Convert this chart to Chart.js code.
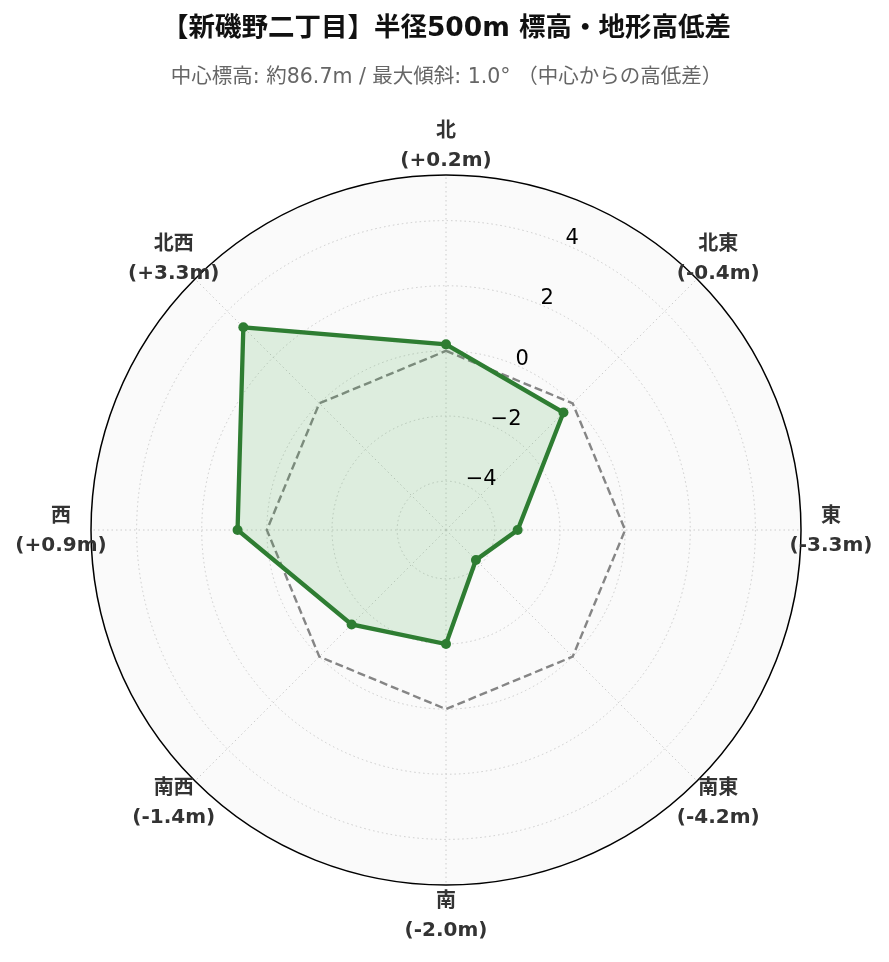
<!DOCTYPE html>
<html>
<head>
<meta charset="utf-8">
<script src="https://cdn.jsdelivr.net/npm/chart.js@4.4.1/dist/chart.umd.min.js"></script>
<style>
    html, body { margin: 0; padding: 0; background: #ffffff; }
    #wrap { width: 889px; height: 962px; }
</style>
</head>
<body>
<div id="wrap"><canvas id="RadarChart" width="889" height="962"></canvas></div>
<script>
// directions, clockwise from north
const directions = ['北', '北東', '東', '南東', '南', '南西', '西', '北西'];
// elevation difference from center (m)
const diffs = [0.2, -0.4, -3.3, -4.2, -2.0, -1.4, 0.9, 3.3];
// reference line = center elevation
const baseline = [0, 0, 0, 0, 0, 0, 0, 0];
const tickValues = [-4, -2, 0, 2, 4];

const titleText = '【新磯野二丁目】半径500m 標高・地形高低差';
const subtitleText = '中心標高: 約86.7m / 最大傾斜: 1.0° （中心からの高低差）';

const fontFamily = '"DejaVu Sans", "Noto Sans CJK JP", sans-serif';

function signed(v) {
    return (v >= 0 ? '+' : '-') + Math.abs(v).toFixed(1) + 'm';
}

// titles, outer ring, radial tick labels and direction labels
const decorations = {
    id: 'decorations',
    afterDraw(chart) {
        const ctx = chart.ctx;
        const r = chart.scales.r;
        ctx.save();

        // outer circle
        ctx.beginPath();
        ctx.arc(r.xCenter, r.yCenter, r.drawingArea, 0, Math.PI * 2);
        ctx.strokeStyle = '#000000';
        ctx.lineWidth = 1.5;
        ctx.stroke();

        // title + subtitle
        ctx.textAlign = 'center';
        ctx.textBaseline = 'middle';
        ctx.fillStyle = '#111111';
        ctx.font = 'bold 26.5px ' + fontFamily;
        ctx.fillText(titleText, chart.width / 2 + 2, 29);
        ctx.fillStyle = '#666666';
        ctx.font = '20.5px ' + fontFamily;
        ctx.fillText(subtitleText, chart.width / 2 + 2, 78);

        // radial tick labels at 22.5 degrees
        ctx.fillStyle = '#000000';
        ctx.font = '21px ' + fontFamily;
        ctx.textAlign = 'left';
        ctx.textBaseline = 'alphabetic';
        tickValues.forEach(v => {
            const p = r.getPointPosition(0.5, r.getDistanceFromCenterForValue(v));
            const label = v < 0 ? '\u2212' + Math.abs(v) : String(v);
            ctx.fillText(label, p.x + 1, p.y);
        });

        // direction labels
        ctx.fillStyle = '#333333';
        ctx.font = 'bold 20px ' + fontFamily;
        ctx.textAlign = 'center';
        ctx.textBaseline = 'middle';
        directions.forEach((d, i) => {
            const p = r.getPointPosition(i, r.drawingArea + 30);
            ctx.fillText(d, p.x, p.y - 13);
            ctx.fillText('(' + signed(diffs[i]) + ')', p.x, p.y + 16);
        });

        ctx.restore();
    }
};

const ctx = document.getElementById('RadarChart').getContext('2d');
const RadarChart = new Chart(ctx, {
    type: 'radar',
    data: {
        labels: directions,
        datasets: [{
            data: diffs,
            borderColor: '#2e7d32',
            backgroundColor: 'rgba(76, 175, 80, 0.16)',
            borderWidth: 4.3,
            fill: 'start',
            pointRadius: 5,
            pointBackgroundColor: '#2e7d32',
            pointBorderWidth: 0,
            tension: 0
        }, {
            data: baseline,
            borderColor: '#858585',
            borderWidth: 2.4,
            borderDash: [8, 4],
            fill: false,
            pointRadius: 0,
            tension: 0
        }]
    },
    options: {
        responsive: false,
        animation: false,
        layout: {
            padding: { left: 91, right: 88, top: 175, bottom: 77 }
        },
        plugins: {
            legend: { display: false },
            tooltip: { enabled: false }
        },
        scales: {
            r: {
                min: -5.5,
                max: 5.4,
                startAngle: 0,
                backgroundColor: '#fafafa',
                afterBuildTicks: scale => {
                    scale.ticks = tickValues.map(v => ({ value: v }));
                },
                ticks: { display: false },
                pointLabels: { display: false },
                grid: {
                    circular: true,
                    color: '#cccccc',
                    lineWidth: 1
                },
                border: { dash: [1.5, 3] },
                angleLines: {
                    color: '#cccccc',
                    lineWidth: 1,
                    borderDash: [1.5, 3]
                }
            }
        }
    },
    plugins: [decorations]
});
</script>
</body>
</html>
